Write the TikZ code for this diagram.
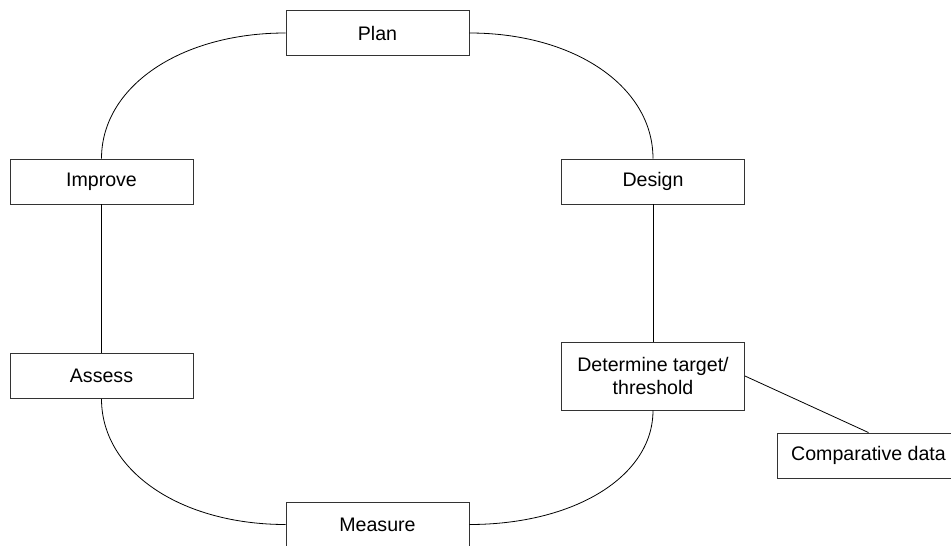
\documentclass[tikz,border=0pt]{standalone}
\usepackage{fontspec}
\setmainfont{Liberation Sans}
\begin{document}
\begin{tikzpicture}[x=1pt,y=-1pt,
  box/.style={draw=black!80,line width=0.9pt,fill=white,minimum width=183pt,minimum height=45pt,inner sep=0pt,align=center,font=\fontsize{19.6}{22.5}\selectfont},
  link/.style={draw=black,line width=0.8pt}]
\useasboundingbox[fill=white] (0,0) rectangle (951,546);
\clip (0,0) rectangle (951,546);
\node[box] (plan) at (377.5,33) {Plan};
\node[box] (improve) at (101.5,181.5) {Improve};
\node[box] (design) at (653,181.5) {Design};
\node[box,minimum height=68pt] (determine) at (653,376) {Determine target/\\threshold};
\node[box] (assess) at (101.5,376) {Assess};
\node[box] (measure) at (377.5,524.5) {Measure};
\node[box] (comparative) at (868.5,455.5) {Comparative data};
\draw[link] (plan.west) .. controls +(-105,0) and +(0,-72) .. (improve.north);
\draw[link] (plan.east) .. controls +(105,0) and +(0,-72) .. (design.north);
\draw[link] (assess.south) .. controls +(0,72) and +(-105,0) .. (measure.west);
\draw[link] (determine.south) .. controls +(0,66) and +(105,0) .. (measure.east);
\draw[link] (improve.south) -- (assess.north);
\draw[link] (design.south) -- (determine.north);
\draw[link] (determine.east) -- (comparative.north);
\end{tikzpicture}
\end{document}
